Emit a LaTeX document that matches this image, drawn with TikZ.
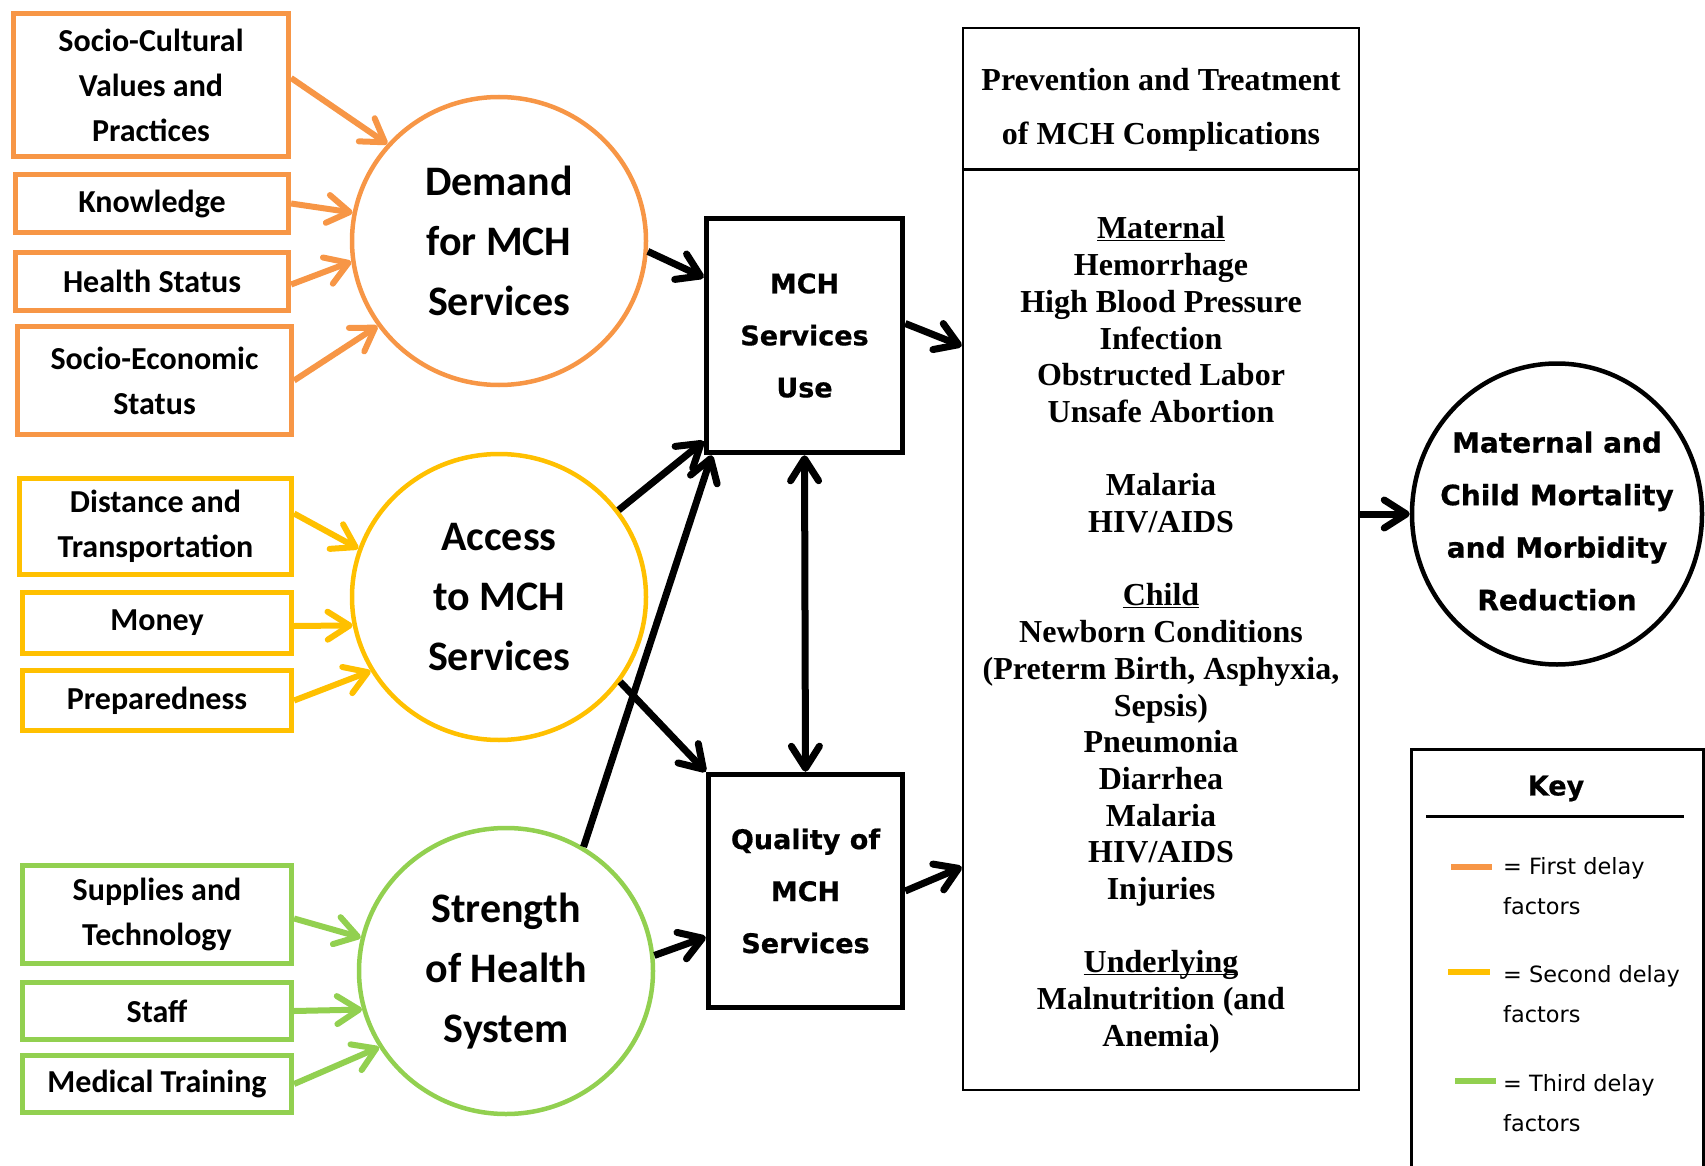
\documentclass[tikz,border=0pt]{standalone}
\usepackage{fontspec}
\setmainfont{Liberation Serif}
\newfontfamily\calfont{Carlito}
\newfontfamily\verfont{DejaVu Sans}[BoldFeatures={FakeBold=0.6}]
\newfontfamily\timesfont{Liberation Serif}
\usetikzlibrary{shapes.geometric, arrows.meta}
\definecolor{firstdelay}{HTML}{F79646}
\definecolor{seconddelay}{HTML}{FFC000}
\definecolor{thirddelay}{HTML}{92D050}

\begin{document}
\begin{tikzpicture}[
      x=1pt, y=-1pt,
      >={Straight Barb[length=22pt, width=28pt, round]},
      factor/.style = {shape=rectangle, draw, line width=4.7pt, inner sep=0pt,
        align=center, font=\calfont\bfseries\fontsize{32}{45}\selectfont},
      delay/.style = {shape=ellipse, draw, line width=4.5pt, inner sep=0pt,
        minimum width=294pt, align=center,
        font=\calfont\bfseries\fontsize{42}{60}\selectfont},
      mch/.style = {shape=rectangle, draw, line width=5.5pt, inner sep=0pt,
        align=center, font=\verfont\bfseries\fontsize{27}{52}\selectfont},
      feed/.style = {line width=6pt, ->},
      link/.style = {line width=7pt, ->},
      keyentry/.style = {anchor=west, align=left, inner sep=0pt,
        font=\verfont\fontsize{22.4}{40}\selectfont}
    ]
      \useasboundingbox (0,0) rectangle (1705,1166);

      \node[factor, draw=firstdelay, minimum width=275.5pt, minimum height=143.5pt] (sc) at (151,85) {Socio-Cultural\\Values and\\Practices};
      \node[factor, draw=firstdelay, minimum width=273.5pt, minimum height=58.5pt] (know) at (152,203.5) {Knowledge};
      \node[factor, draw=firstdelay, minimum width=273.5pt, minimum height=58.5pt] (hstat) at (152,281.5) {Health Status};
      \node[factor, draw=firstdelay, minimum width=274.5pt, minimum height=108.5pt] (secon) at (154.5,380.5) {Socio-Economic\\Status};
      \node[delay, draw=firstdelay, minimum height=288pt] (dem) at (499,241) {Demand\\for MCH\\Services};

      \node[factor, draw=seconddelay, minimum width=272.5pt, minimum height=96.5pt] (dist) at (155.5,526.5) {Distance and\\Transportation};
      \node[factor, draw=seconddelay, minimum width=269.5pt, minimum height=61.5pt] (money) at (157,623) {Money};
      \node[factor, draw=seconddelay, minimum width=269.5pt, minimum height=60.5pt] (prep) at (157,700.5) {Preparedness};
      \node[delay, draw=seconddelay, minimum height=286pt] (acc) at (499,597) {Access\\to MCH\\Services};

      \node[factor, draw=thirddelay, minimum width=269.5pt, minimum height=98.5pt] (supp) at (157,914.5) {Supplies and\\Technology};
      \node[factor, draw=thirddelay, minimum width=269.5pt, minimum height=57.5pt] (staff) at (157,1011) {Staff};
      \node[factor, draw=thirddelay, minimum width=269.5pt, minimum height=57.5pt] (medtr) at (157,1084) {Medical Training};
      \node[delay, draw=thirddelay, minimum height=286pt] (str) at (506,971) {Strength\\of Health\\System};

      \node[mch, minimum width=196pt, minimum height=234pt] (use) at (804.5,335.5) {MCH\\Services\\Use};
      \node[mch, minimum width=194pt, minimum height=233pt] (qual) at (805.5,891) {Quality of\\MCH\\Services};

      \node[draw, line width=2.5pt, minimum width=396pt, minimum height=1062pt] (prev) at (1161,559) {};
      \draw[line width=2.5pt] ([yshift=-143pt]prev.north west) -- ([yshift=-143pt]prev.north east);
      \node[align=center, font=\timesfont\bfseries\fontsize{32}{54}\selectfont] (prevhead) at (1161,109.5) {Prevention and Treatment\\of MCH Complications};
      \node[align=center, font=\timesfont\bfseries\fontsize{32}{36.7}\selectfont] (prevbody) at (1161,646) {\underline{\smash{Maternal}}\\Hemorrhage\\High Blood Pressure\\Infection\\Obstructed Labor\\Unsafe Abortion\\[36.7pt]Malaria\\HIV/AIDS\\[36.7pt]\underline{\smash{Child}}\\Newborn Conditions\\(Preterm Birth, Asphyxia,\\Sepsis)\\Pneumonia\\Diarrhea\\Malaria\\HIV/AIDS\\Injuries\\[36.7pt]\underline{\smash{Underlying}}\\Malnutrition (and\\Anemia)};

      \node[shape=ellipse, draw, line width=4.5pt, minimum width=290pt, minimum height=301pt,
        label={[align=center, yshift=-7pt, font=\verfont\bfseries\fontsize{28}{52.5}\selectfont]center:Maternal and\\Child Mortality\\and Morbidity\\Reduction}] (outc) at (1557,514) {};

      \node[draw, line width=2.5pt, anchor=north west, minimum width=292pt, minimum height=440pt] (keybox) at (1410,748) {};
      \node[font=\verfont\bfseries\fontsize{27}{32}\selectfont] (keytitle) at (1556,788.5) {Key};
      \draw[line width=3pt] (1426,816) -- (1684,816);
      \draw[firstdelay, line width=5.5pt] (1451,867) -- (1492,867);
      \node[keyentry] (keyfirst) at (1503,886) {= First delay\\factors};
      \draw[seconddelay, line width=5.5pt] (1448,972) -- (1490,972);
      \node[keyentry] (keysecond) at (1503,994.5) {= Second delay\\factors};
      \draw[thirddelay, line width=5.5pt] (1455,1081) -- (1496,1081);
      \node[keyentry] (keythird) at (1503,1103) {= Third delay\\factors};

      \draw[feed, firstdelay] ([yshift=7pt]sc.east) -- (dem.139);
      \draw[feed, firstdelay] (know.east) -- (dem.169);
      \draw[feed, firstdelay] ([yshift=-3pt]hstat.east) -- (dem.188);
      \draw[feed, firstdelay] (secon.east) -- (dem.215);
      \draw[feed, seconddelay] ([yshift=13pt]dist.east) -- (acc.161);
      \draw[feed, seconddelay] ([yshift=-3pt]money.east) -- (acc.191.5);
      \draw[feed, seconddelay] (prep.east) -- (acc.210);
      \draw[feed, thirddelay] ([yshift=-4pt]supp.east) -- (str.167);
      \draw[feed, thirddelay] (staff.east) -- (str.195);
      \draw[feed, thirddelay] (medtr.east) -- (str.211);

      \draw[link] (dem.-4) -- ([yshift=58pt]use.west);
      \draw[link] (acc.36) -- ([yshift=14pt]use.south west);
      \draw[link] (str.58) -- ([xshift=8pt]use.south west);
      \draw[link] (acc.-35) -- (qual.north west);
      \draw[link] (str.6) -- ([yshift=-46pt]qual.west);
      \draw[link, <->] (use.south) -- (qual.north);
      \draw[link] ([yshift=12pt]use.east) -- ([yshift=213pt]prev.west);
      \draw[link] (qual.east) -- ([yshift=-308pt]prev.west);
      \draw[link] ([yshift=45pt]prev.east) -- (outc.west);
    \end{tikzpicture}
\end{document}
